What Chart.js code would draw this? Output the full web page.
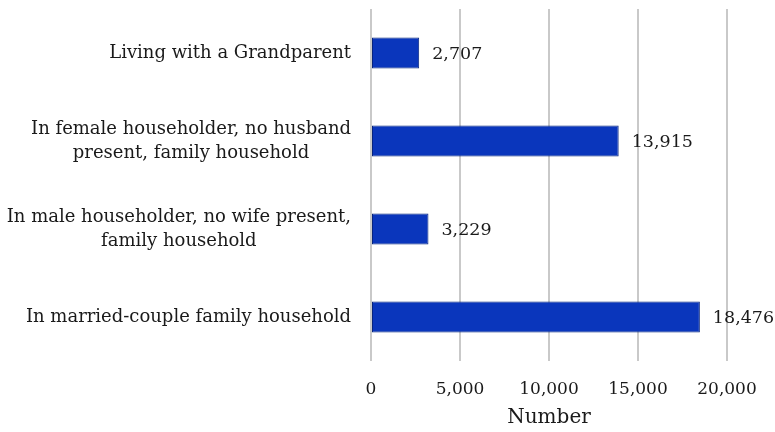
<!DOCTYPE html>
<html>
<head>
<meta charset="utf-8">
<script src="https://cdn.jsdelivr.net/npm/chart.js@4"></script>
<style>
  html, body { margin: 0; padding: 0; background: #fff; }
  #wrap { width: 775px; height: 432px; }
</style>
</head>
<body>
<div id="wrap"><canvas id="householdChart" width="775" height="432"></canvas></div>
<script>
// --- Data ---
const categories = [
  ['Living with a Grandparent'],
  ['In female householder, no husband', 'present, family household'],
  ['In male householder, no wife present,', 'family household'],
  ['In married-couple family household']
];
const counts = [2707, 13915, 3229, 18476];
const xTicks = [0, 5000, 10000, 15000, 20000];
const axisTitle = 'Number';

const FONT = '"DejaVu Serif", "Liberation Serif", serif';

// category labels: block right-aligned, lines centred inside the block
const catLabels = {
  id: 'catLabels',
  afterDraw(chart) {
    const { ctx, chartArea } = chart;
    const yScale = chart.scales.y;
    ctx.save();
    ctx.font = '18px ' + FONT;
    ctx.fillStyle = '#1a1a1a';
    ctx.textAlign = 'center';
    ctx.textBaseline = 'middle';
    const right = chartArea.left - 20;
    const lineH = 24;
    categories.forEach((lines, i) => {
      const w = Math.max(...lines.map(l => ctx.measureText(l).width));
      const cx = right - w / 2;
      const cy = yScale.getPixelForTick(i);
      lines.forEach((l, j) => {
        ctx.fillText(l, cx, cy + (j - (lines.length - 1) / 2) * lineH);
      });
    });
    ctx.restore();
  }
};

// value labels to the right of each bar
const valueLabels = {
  id: 'valueLabels',
  afterDatasetsDraw(chart) {
    const { ctx } = chart;
    const meta = chart.getDatasetMeta(0);
    ctx.save();
    ctx.font = '17.5px ' + FONT;
    ctx.fillStyle = '#1a1a1a';
    ctx.textAlign = 'left';
    ctx.textBaseline = 'middle';
    meta.data.forEach((bar, i) => {
      ctx.fillText(counts[i].toLocaleString('en-US'), bar.x + 13, bar.y + 1);
    });
    ctx.restore();
  }
};

function barFill(context) {
  const chart = context.chart;
  const bar = context.element;
  if (!bar || bar.y === undefined) return '#0a36bc';
  const g = chart.ctx.createLinearGradient(0, bar.y - 15, 0, bar.y + 15);
  g.addColorStop(0, '#0830a8');
  g.addColorStop(0.5, '#0a38c2');
  g.addColorStop(1, '#0830a8');
  return g;
}

const ctx = document.getElementById('householdChart');
const householdChart = new Chart(ctx, {
  type: 'bar',
  data: {
    labels: categories,
    datasets: [{
      data: counts,
      backgroundColor: barFill,
      borderColor: '#07247e',
      borderWidth: 1,
      borderSkipped: false,
      categoryPercentage: 1,
      barPercentage: 0.35
    }]
  },
  options: {
    indexAxis: 'y',
    responsive: false,
    animation: false,
    layout: { padding: { left: 371, right: 48, top: 9, bottom: 0 } },
    plugins: {
      legend: { display: false },
      tooltip: { enabled: false }
    },
    scales: {
      x: {
        min: 0,
        max: 20000,
        afterBuildTicks: s => { s.ticks = xTicks.map(v => ({ value: v })); },
        afterFit: s => { s.height = 71; },
        grid: { color: '#c9c9c9', lineWidth: 2, drawTicks: false },
        border: { display: false },
        ticks: {
          padding: 18,
          color: '#1a1a1a',
          font: { family: FONT, size: 17 },
          callback: v => v.toLocaleString('en-US')
        },
        title: {
          display: true,
          text: axisTitle,
          color: '#1a1a1a',
          font: { family: FONT, size: 20 },
          padding: { top: 6, bottom: 2 }
        }
      },
      y: {
        grid: { display: false },
        border: { display: false },
        ticks: { display: false },
        afterFit: s => { s.width = 0; }
      }
    }
  },
  plugins: [catLabels, valueLabels]
});
</script>
</body>
</html>
